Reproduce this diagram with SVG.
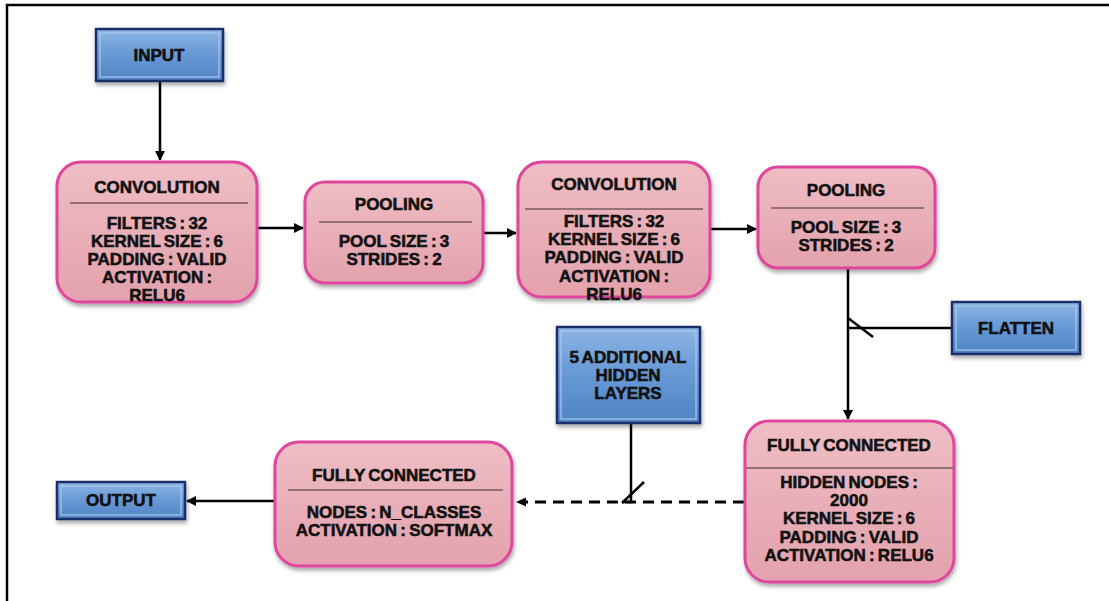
<svg xmlns="http://www.w3.org/2000/svg" width="1109" height="601" viewBox="0 0 1109 601">
  <defs>
    <linearGradient id="pinkFill" x1="0" y1="0" x2="0" y2="1">
      <stop offset="0" stop-color="#efbec5"/>
      <stop offset="0.5" stop-color="#e9afb8"/>
      <stop offset="1" stop-color="#e3a2ad"/>
    </linearGradient>
    <linearGradient id="blueFill" x1="0" y1="0" x2="0" y2="1">
      <stop offset="0" stop-color="#8db5e4"/>
      <stop offset="0.45" stop-color="#6a9bd6"/>
      <stop offset="1" stop-color="#4f83c3"/>
    </linearGradient>
    <filter id="shadow" x="-10%" y="-10%" width="125%" height="130%">
      <feGaussianBlur in="SourceAlpha" stdDeviation="2"/>
      <feOffset dx="1" dy="3" result="b"/>
      <feComponentTransfer><feFuncA type="linear" slope="0.35"/></feComponentTransfer>
      <feMerge><feMergeNode/><feMergeNode in="SourceGraphic"/></feMerge>
    </filter>
    <marker id="arrow" viewBox="0 0 10 10" refX="9" refY="5" markerWidth="4" markerHeight="4" orient="auto-start-reverse">
      <path d="M0,0 L10,5 L0,10 z" fill="#000"/>
    </marker>
  </defs>
  <style>
    .layer { fill: url(#pinkFill); stroke: #de479d; stroke-width: 3; filter: url(#shadow); }
    .io { fill: url(#blueFill); stroke: #1c2d68; stroke-width: 2.5; filter: url(#shadow); }
    .bevel { fill: none; stroke: #a9c8ee; stroke-width: 1.5; opacity: 0.8; }
    .sep { stroke: #7a5a60; stroke-width: 1.5; }
    text { font-family: "Liberation Sans", Arial, sans-serif; font-weight: bold; font-size: 17px; fill: #111; stroke: #111; stroke-width: 0.55; text-anchor: middle; word-spacing: -1.5px; }
    .wire { fill: none; stroke: #000; stroke-width: 2.5; }
    .dash { fill: none; stroke: #000; stroke-width: 3; stroke-dasharray: 11 7; }
  </style>

  <!-- page frame -->
  <path d="M7,601 V5 H1109" fill="none" stroke="#000" stroke-width="2.5"/>

  <!-- connectors -->
  <g id="connectors">
    <line class="wire" x1="160" y1="81" x2="160" y2="160" marker-end="url(#arrow)"/>
    <line class="wire" x1="258" y1="228" x2="303" y2="228" marker-end="url(#arrow)"/>
    <line class="wire" x1="484" y1="233" x2="516" y2="233" marker-end="url(#arrow)"/>
    <line class="wire" x1="711" y1="229" x2="756" y2="229" marker-end="url(#arrow)"/>
    <line class="wire" x1="848" y1="269" x2="848" y2="419" marker-end="url(#arrow)"/>
    <line class="wire" x1="952" y1="328" x2="848" y2="328"/>
    <line class="wire" x1="848" y1="318" x2="873" y2="337"/>
    <line class="dash" x1="744" y1="502" x2="522" y2="502"/>
    <path d="M516,502 L526,497.5 L526,506.5 z" fill="#000"/>
    <line class="wire" x1="631" y1="423" x2="631" y2="502"/>
    <line class="wire" x1="622" y1="503" x2="644" y2="482"/>
    <line class="wire" x1="622" y1="502" x2="632" y2="502"/>
    <line class="wire" x1="275" y1="501" x2="187" y2="501" marker-end="url(#arrow)"/>
  </g>

  <!-- input -->
  <g id="input">
    <rect class="io" x="96" y="29" width="127" height="52"/>
    <rect class="bevel" x="100" y="33" width="119" height="44"/>
    <text x="159" y="61">INPUT</text>
  </g>

  <!-- first convolution -->
  <g id="conv1">
    <rect class="layer" x="57" y="162" width="200" height="140" rx="24"/>
    <text x="157" y="193">CONVOLUTION</text>
    <line class="sep" x1="70" y1="203" x2="248" y2="203"/>
    <text x="157" y="229">FILTERS : 32</text>
    <text x="157" y="247">KERNEL SIZE : 6</text>
    <text x="157" y="265">PADDING : VALID</text>
    <text x="157" y="283">ACTIVATION :</text>
    <text x="157" y="301">RELU6</text>
  </g>

  <!-- first pooling -->
  <g id="pool1">
    <rect class="layer" x="305" y="182" width="178" height="101" rx="20"/>
    <text x="394" y="210">POOLING</text>
    <line class="sep" x1="319" y1="222" x2="472" y2="222"/>
    <text x="394" y="247">POOL SIZE : 3</text>
    <text x="394" y="265">STRIDES : 2</text>
  </g>

  <!-- second convolution -->
  <g id="conv2">
    <rect class="layer" x="518" y="162" width="192" height="135" rx="24"/>
    <text x="614" y="190">CONVOLUTION</text>
    <line class="sep" x1="525" y1="209" x2="703" y2="209"/>
    <text x="614" y="227">FILTERS : 32</text>
    <text x="614" y="245">KERNEL SIZE : 6</text>
    <text x="614" y="263">PADDING : VALID</text>
    <text x="614" y="282">ACTIVATION :</text>
    <text x="614" y="300">RELU6</text>
  </g>

  <!-- second pooling -->
  <g id="pool2">
    <rect class="layer" x="758" y="167" width="177" height="101" rx="20"/>
    <text x="846" y="196">POOLING</text>
    <line class="sep" x1="771" y1="208" x2="924" y2="208"/>
    <text x="846" y="233">POOL SIZE : 3</text>
    <text x="846" y="251">STRIDES : 2</text>
  </g>

  <!-- flatten -->
  <g id="flatten">
    <rect class="io" x="952" y="302" width="128" height="52"/>
    <rect class="bevel" x="956" y="306" width="120" height="44"/>
    <text x="1016" y="334">FLATTEN</text>
  </g>

  <!-- extra hidden layers -->
  <g id="hidden">
    <rect class="io" x="557" y="327" width="143" height="96"/>
    <rect class="bevel" x="561" y="331" width="135" height="88"/>
    <text x="628" y="363">5 ADDITIONAL</text>
    <text x="628" y="381">HIDDEN</text>
    <text x="628" y="399">LAYERS</text>
  </g>

  <!-- first dense layer -->
  <g id="fc1">
    <rect class="layer" x="745" y="421" width="209" height="161" rx="24"/>
    <text x="849" y="451">FULLY CONNECTED</text>
    <line class="sep" x1="746" y1="468" x2="953" y2="468"/>
    <text x="849" y="488">HIDDEN NODES :</text>
    <text x="849" y="506">2000</text>
    <text x="849" y="524">KERNEL SIZE : 6</text>
    <text x="849" y="543">PADDING : VALID</text>
    <text x="849" y="561">ACTIVATION : RELU6</text>
  </g>

  <!-- output dense layer -->
  <g id="fc2">
    <rect class="layer" x="275" y="442" width="237" height="124" rx="24"/>
    <text x="394" y="481">FULLY CONNECTED</text>
    <line class="sep" x1="288" y1="490" x2="503" y2="490"/>
    <text x="394" y="518">NODES : N_CLASSES</text>
    <text x="394" y="536">ACTIVATION : SOFTMAX</text>
  </g>

  <!-- output -->
  <g id="output">
    <rect class="io" x="57" y="482" width="128" height="37"/>
    <rect class="bevel" x="61" y="486" width="120" height="29"/>
    <text x="121" y="506">OUTPUT</text>
  </g>
</svg>
